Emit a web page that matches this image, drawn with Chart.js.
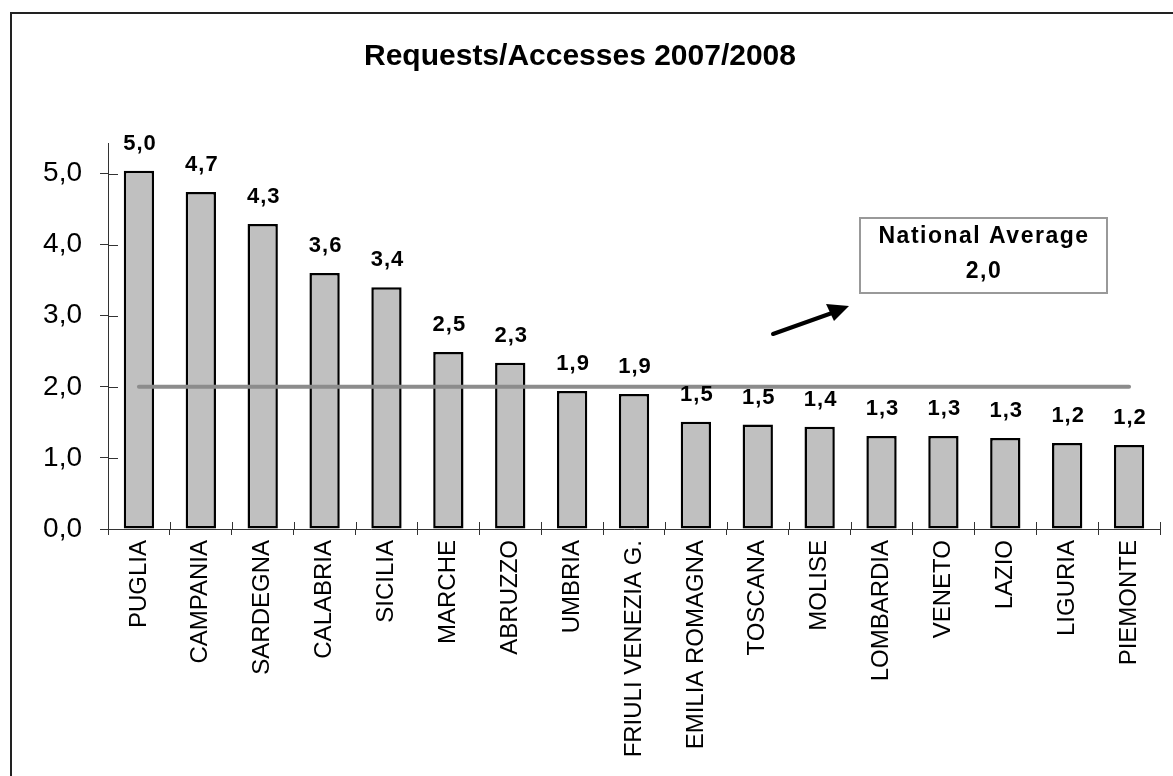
<!DOCTYPE html>
<html>
<head>
<meta charset="utf-8">
<script src="https://cdn.jsdelivr.net/npm/chart.js@4/dist/chart.umd.min.js"></script>
<style>
html, body { margin: 0; padding: 0; background: #fff; }
#wrap { width: 1173px; height: 776px; }
</style>
</head>
<body>
<div id="wrap"><canvas id="chart"></canvas></div>
<script>
var regions = ["PUGLIA", "CAMPANIA", "SARDEGNA", "CALABRIA", "SICILIA", "MARCHE", "ABRUZZO",
  "UMBRIA", "FRIULI VENEZIA G.", "EMILIA ROMAGNA", "TOSCANA", "MOLISE", "LOMBARDIA",
  "VENETO", "LAZIO", "LIGURIA", "PIEMONTE"];
var ratios = [5.04, 4.74, 4.29, 3.6, 3.4, 2.49, 2.34, 1.94, 1.9, 1.51, 1.47, 1.44, 1.31, 1.31, 1.28, 1.21, 1.18];
var nationalAverage = 2.0;
var yTicks = [0, 1, 2, 3, 4, 5];

function fmt(v) { return v.toFixed(1).replace('.', ','); }

// frame, cross ticks, bar labels, note box + arrow
var extras = {
  id: 'extras',
  beforeDraw: function(chart) {
    var ctx = chart.ctx;
    ctx.save();
    ctx.fillStyle = '#fff';
    ctx.fillRect(0, 0, chart.width, chart.height);
    ctx.strokeStyle = '#222';
    ctx.lineWidth = 2;
    ctx.strokeRect(11, 13, 1300, 900);
    ctx.restore();
  },
  afterDraw: function(chart) {
    var ctx = chart.ctx, ys = chart.scales.y, a = chart.chartArea;
    ctx.save();
    ctx.strokeStyle = '#333';
    ctx.lineWidth = 1;
    // inner halves of the cross tick marks
    ys.ticks.forEach(function(t) {
      var y = Math.round(ys.getPixelForValue(t.value)) + 0.5;
      ctx.beginPath(); ctx.moveTo(a.left, y); ctx.lineTo(a.left + 10, y); ctx.stroke();
    });
    for (var i = 0; i <= regions.length; i++) {
      var x = Math.round(a.left + (a.right - a.left) * i / regions.length) + 0.5;
      ctx.beginPath(); ctx.moveTo(x, a.bottom); ctx.lineTo(x, a.bottom - 7); ctx.stroke();
    }
    // value labels
    var meta = chart.getDatasetMeta(0);
    ctx.fillStyle = '#000';
    ctx.font = 'bold 22px "Liberation Sans", Arial, sans-serif';
    ctx.letterSpacing = '1px';
    ctx.textAlign = 'center';
    ctx.textBaseline = 'alphabetic';
    meta.data.forEach(function(bar, i) {
      ctx.fillText(fmt(ratios[i]), bar.x + 1, bar.y - 21);
    });
    // note box
    ctx.strokeStyle = '#999';
    ctx.lineWidth = 2;
    ctx.strokeRect(860, 218, 247, 75);
    ctx.font = 'bold 23px "Liberation Sans", Arial, sans-serif';
    ctx.letterSpacing = '1.5px';
    ctx.textBaseline = 'middle';
    ctx.fillText('National Average', 984, 237);
    ctx.fillText(fmt(nationalAverage), 984, 272);
    // arrow
    ctx.strokeStyle = '#000';
    ctx.lineWidth = 4;
    ctx.lineCap = 'round';
    ctx.beginPath(); ctx.moveTo(773, 334); ctx.lineTo(832, 313); ctx.stroke();
    ctx.fillStyle = '#000';
    ctx.beginPath();
    ctx.moveTo(849, 306); ctx.lineTo(826, 304); ctx.lineTo(834, 321); ctx.closePath();
    ctx.fill();
    ctx.restore();
  }
};

new Chart(document.getElementById('chart'), {
  type: 'bar',
  data: {
    labels: regions,
    datasets: [{
      type: 'bar',
      data: ratios,
      backgroundColor: '#c0c0c0',
      borderColor: '#000',
      borderWidth: 2.5,
      borderSkipped: false,
      barPercentage: 0.49,
      categoryPercentage: 1,
      order: 2
    }, {
      type: 'line',
      data: regions.map(function() { return nationalAverage; }),
      borderColor: '#8c8c8c',
      borderWidth: 4,
      borderCapStyle: 'round',
      pointRadius: 0,
      fill: false,
      order: 1
    }]
  },
  options: {
    responsive: true,
    maintainAspectRatio: false,
    animation: false,
    layout: { padding: { left: 0, right: 13, top: 0, bottom: 0 } },
    plugins: {
      legend: { display: false },
      tooltip: { enabled: false },
      title: {
        display: true,
        text: 'Requests/Accesses 2007/2008',
        color: '#000',
        font: { family: '"Liberation Sans", Arial, sans-serif', size: 30, weight: 'bold' },
        padding: { top: 39, bottom: 68 }
      }
    },
    scales: {
      x: {
        grid: { display: true, drawOnChartArea: false, offset: true, tickLength: 6, color: '#333' },
        border: { color: '#333', width: 1 },
        ticks: {
          minRotation: 90, maxRotation: 90, autoSkip: false, padding: 5,
          color: '#000',
          font: { family: '"Liberation Sans", Arial, sans-serif', size: 24 }
        },
        afterFit: function(s) { s.height = 247; }
      },
      y: {
        min: 0,
        max: 5.43,
        afterBuildTicks: function(s) { s.ticks = yTicks.map(function(v) { return { value: v }; }); },
        grid: { display: true, drawOnChartArea: false, tickLength: 8, color: '#333' },
        border: { color: '#333', width: 1 },
        ticks: {
          padding: 18,
          color: '#000',
          font: { family: '"Liberation Sans", Arial, sans-serif', size: 28 },
          callback: function(v) { return fmt(v); }
        },
        afterFit: function(s) { s.width = 108; }
      }
    }
  },
  plugins: [extras]
});
</script>
</body>
</html>
